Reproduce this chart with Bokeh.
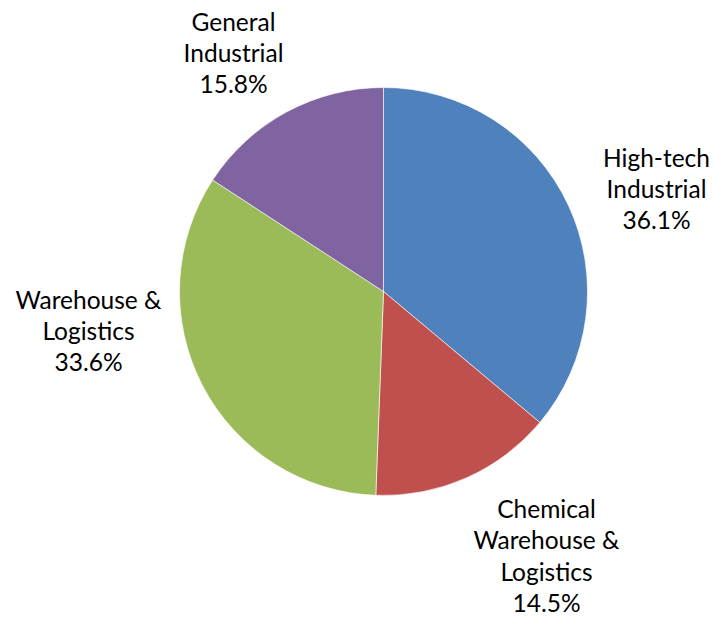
import math
from bokeh.plotting import figure
from bokeh.models import ColumnDataSource, Range1d
from bokeh.embed import file_html
from bokeh.resources import INLINE
from bokeh.core.properties import value

# ---- data ----
categories = ["High-tech\nIndustrial", "Chemical\nWarehouse &\nLogistics", "Warehouse &\nLogistics", "General\nIndustrial"]
shares = [36.1, 14.5, 33.6, 15.8]
colors = ["#4F81BD", "#C0504D", "#9BBB59", "#8064A2"]

# ---- layout (pixel coordinates, y measured from top) ----
W, H = 713, 619
cx, cy, r = 383, 291, 204
label_pos = [(656, 188), (546, 555), (88, 330), (233, 52)]

p = figure(width=W, height=H, output_backend="svg", toolbar_location=None,
           x_range=Range1d(0, W), y_range=Range1d(0, H), min_border=0)
p.axis.visible = False
p.grid.visible = False
p.outline_line_color = None
p.background_fill_color = "white"

total = sum(shares)
starts, ends = [], []
acc = 0.0
for s in shares:
    a0 = math.pi / 2 - 2 * math.pi * acc / total
    acc += s
    a1 = math.pi / 2 - 2 * math.pi * acc / total
    starts.append(a0)
    ends.append(a1)

src = ColumnDataSource(dict(x=[cx] * 4, y=[H - cy] * 4, start=starts, end=ends, color=colors))
p.wedge(x="x", y="y", radius=r, start_angle="start", end_angle="end", direction="clock",
        fill_color="color", line_color="white", line_width=0.6, source=src)

texts = [f"{c}\n{s:.1f}%" for c, s in zip(categories, shares)]
lsrc = ColumnDataSource(dict(x=[lp[0] for lp in label_pos], y=[H - lp[1] for lp in label_pos], t=texts))
p.text(x="x", y="y", text="t", source=lsrc, text_align="center", text_baseline="middle",
       text_font=value("Lato"), text_font_size="24.5px", text_color="black", text_line_height=1.08)

open("out.html", "w").write(file_html(p, INLINE))
